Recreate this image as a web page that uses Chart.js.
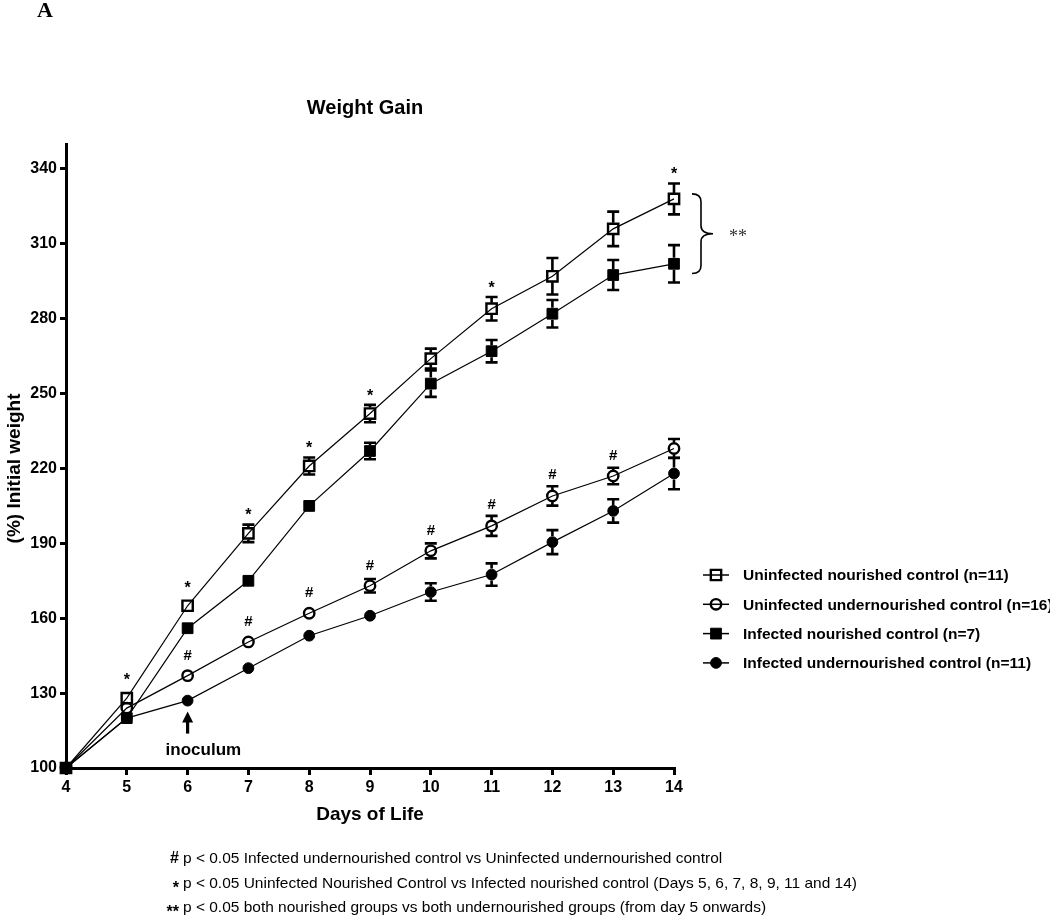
<!DOCTYPE html>
<html>
<head>
<meta charset="utf-8">
<script src="https://cdn.jsdelivr.net/npm/chart.js@4.4.0/dist/chart.umd.min.js"></script>
<style>
  html, body { margin: 0; padding: 0; background: #fff; }
  #wrap { width: 1050px; height: 916px; position: relative; }
</style>
</head>
<body>
<div id="wrap"><canvas id="myChart"></canvas></div>
<script>
'use strict';

// data
const days = [4, 5, 6, 7, 8, 9, 10, 11, 12, 13, 14];
const yTicks = [100, 130, 160, 190, 220, 250, 280, 310, 340];

const uninfNour = [100, 128, 165, 194, 221, 242, 264, 284, 297, 316, 328];
const uninfNourErr = [0, 0, 0, 3.5, 3.4, 3.5, 4, 4.7, 7.3, 6.9, 6.2];
const uninfUnder = [100, 124, 137, 150.5, 162, 173, 187, 197, 209, 217, 228];
const uninfUnderErr = [0, 0, 0, 0, 0, 2.7, 3, 4, 3.9, 3.3, 3.8];
const infNour = [100, 120, 156, 175, 205, 227, 254, 267, 282, 297.5, 302];
const infNourErr = [0, 0, 0, 0, 1.5, 3.3, 5.3, 4.5, 5.5, 6, 7.5];
const infUnder = [100, 120, 127, 140, 153, 161, 170.5, 177.5, 190.5, 203, 218];
const infUnderErr = [0, 0, 0, 0, 0, 0, 3.5, 4.5, 4.8, 4.7, 6.3];

const seriesNames = [
  'Uninfected nourished control (n=11)',
  'Uninfected undernourished control (n=16)',
  'Infected nourished control (n=7)',
  'Infected undernourished control (n=11)'
];

const starDays = [5, 6, 7, 8, 9, 11, 14];
const hashDays = [6, 7, 8, 9, 10, 11, 12, 13];
const inoculumDay = 6;

const footnotes = [
  ['#', 'p < 0.05 Infected undernourished control vs Uninfected undernourished control'],
  ['*', 'p < 0.05 Uninfected Nourished Control vs Infected nourished control (Days 5, 6, 7, 8, 9, 11 and 14)'],
  ['**', 'p < 0.05 both nourished groups vs both undernourished groups (from day 5 onwards)']
];

const SANS = 'Arial, "Liberation Sans", sans-serif';
const NARROW = '15px "Liberation Sans Narrow", "Arial Narrow", ' + SANS;
function bold(px) { return 'bold ' + px + 'px ' + SANS; }

function pts(vals) {
  return days.map((d, i) => ({ x: d, y: vals[i] }));
}

function series(label, vals, err, style, filled, radius) {
  return {
    label: label,
    data: pts(vals),
    err: err,
    borderColor: '#000',
    borderWidth: 1.2,
    pointStyle: style,
    pointRadius: radius,
    pointHoverRadius: radius,
    pointBorderWidth: filled ? 1 : 2.4,
    pointBorderColor: '#000',
    pointBackgroundColor: filled ? '#000' : 'rgba(0,0,0,0)',
    tension: 0,
    clip: false,
    filled: filled
  };
}

const datasets = [
  series(seriesNames[0], uninfNour, uninfNourErr, 'rect', false, 7.3),
  series(seriesNames[1], uninfUnder, uninfUnderErr, 'circle', false, 5.2),
  series(seriesNames[2], infNour, infNourErr, 'rect', true, 7.6),
  series(seriesNames[3], infUnder, infUnderErr, 'circle', true, 5.4)
];

// error bars, drawn from the marker edge outwards
const errorBars = {
  id: 'errorBars',
  afterDatasetsDraw(chart) {
    const ctx = chart.ctx;
    const ys = chart.scales.y;
    ctx.save();
    ctx.strokeStyle = '#000';
    ctx.lineWidth = 2.6;
    chart.data.datasets.forEach((ds, di) => {
      const meta = chart.getDatasetMeta(di);
      meta.data.forEach((pt, i) => {
        const e = ds.err[i];
        if (!e) return;
        const v = ds.data[i].y;
        [v + e, v - e].forEach(end => {
          const py = ys.getPixelForValue(end);
          if (Math.abs(py - pt.y) <= 6) return;
          const dir = py < pt.y ? -1 : 1;
          ctx.beginPath();
          ctx.moveTo(pt.x, pt.y + dir * 6);
          ctx.lineTo(pt.x, py);
          ctx.moveTo(pt.x - 6, py);
          ctx.lineTo(pt.x + 6, py);
          ctx.stroke();
        });
      });
    });
    ctx.restore();
  }
};

function drawMarker(ctx, ds, x, y) {
  ctx.save();
  ctx.lineWidth = ds.pointBorderWidth;
  ctx.strokeStyle = '#000';
  ctx.fillStyle = '#000';
  ctx.beginPath();
  if (ds.pointStyle === 'rect') {
    const s = ds.pointRadius * Math.SQRT1_2;
    ctx.rect(x - s, y - s, 2 * s, 2 * s);
  } else {
    ctx.arc(x, y, ds.pointRadius, 0, Math.PI * 2);
  }
  if (ds.filled) ctx.fill();
  ctx.stroke();
  ctx.restore();
}

const extras = {
  id: 'extras',
  afterDraw(chart) {
    const ctx = chart.ctx;
    const xs = chart.scales.x;
    const ys = chart.scales.y;
    ctx.save();
    ctx.fillStyle = '#000';
    ctx.strokeStyle = '#000';

    // panel letter and title
    ctx.font = 'bold 22px "Liberation Serif", "Times New Roman", serif';
    ctx.textAlign = 'center';
    ctx.textBaseline = 'middle';
    ctx.fillText('A', 45, 11);
    ctx.font = bold(20);
    ctx.fillText('Weight Gain', 365, 108);

    // y axis title, centred on the 100-340 span
    const yMid = (ys.getPixelForValue(yTicks[0]) + ys.getPixelForValue(yTicks[yTicks.length - 1])) / 2;
    ctx.save();
    ctx.translate(15, yMid);
    ctx.rotate(-Math.PI / 2);
    ctx.font = bold(19);
    ctx.fillText('(%) Initial weight', 0, 0);
    ctx.restore();

    // significance marks
    ctx.font = bold(16);
    starDays.forEach(d => {
      const i = days.indexOf(d);
      const py = ys.getPixelForValue(uninfNour[i]);
      const top = ys.getPixelForValue(uninfNour[i] + uninfNourErr[i]);
      const c = Math.min(py - 21, top - 12);
      ctx.textBaseline = 'alphabetic';
      ctx.fillText('*', xs.getPixelForValue(d), c + 8);
    });
    ctx.font = bold(15);
    hashDays.forEach(d => {
      const i = days.indexOf(d);
      const py = ys.getPixelForValue(uninfUnder[i]);
      const top = ys.getPixelForValue(uninfUnder[i] + uninfUnderErr[i]);
      const c = Math.min(py - 20, top - 11);
      ctx.textBaseline = 'middle';
      ctx.fillText('#', xs.getPixelForValue(d), c);
    });

    // inoculum arrow
    const ax = xs.getPixelForValue(inoculumDay);
    const tip = ys.getPixelForValue(infUnder[days.indexOf(inoculumDay)]) + 11;
    ctx.lineWidth = 3.2;
    ctx.beginPath();
    ctx.moveTo(ax, tip + 8);
    ctx.lineTo(ax, tip + 22);
    ctx.stroke();
    ctx.beginPath();
    ctx.moveTo(ax, tip);
    ctx.lineTo(ax - 5.5, tip + 11);
    ctx.lineTo(ax + 5.5, tip + 11);
    ctx.closePath();
    ctx.fill();
    ctx.font = bold(17);
    ctx.textAlign = 'left';
    ctx.textBaseline = 'middle';
    ctx.fillText('inoculum', ax - 22, tip + 39);

    // brace and ** at day 14
    const bx = xs.getPixelForValue(14) + 18;
    const bTop = ys.getPixelForValue(uninfNour[10]) - 5;
    const bBot = ys.getPixelForValue(infNour[10] - infNourErr[10]) - 9;
    const bMid = (bTop + bBot) / 2;
    ctx.lineWidth = 1.6;
    ctx.beginPath();
    ctx.moveTo(bx, bTop);
    ctx.quadraticCurveTo(bx + 9, bTop, bx + 9, bTop + 8);
    ctx.lineTo(bx + 9, bMid - 8);
    ctx.quadraticCurveTo(bx + 9, bMid, bx + 21, bMid);
    ctx.quadraticCurveTo(bx + 9, bMid, bx + 9, bMid + 8);
    ctx.lineTo(bx + 9, bBot - 8);
    ctx.quadraticCurveTo(bx + 9, bBot, bx, bBot);
    ctx.stroke();
    ctx.font = '18px "Liberation Serif", "Times New Roman", serif';
    ctx.fillStyle = '#333';
    ctx.fillText('**', bx + 37, bMid + 4);
    ctx.fillStyle = '#000';

    // legend
    ctx.font = bold(15.5);
    ctx.textBaseline = 'middle';
    chart.data.datasets.forEach((ds, i) => {
      const ly = 575 + i * 29.3;
      ctx.lineWidth = 1.5;
      ctx.beginPath();
      ctx.moveTo(703, ly);
      ctx.lineTo(729, ly);
      ctx.stroke();
      drawMarker(ctx, ds, 716, ly);
      ctx.fillText(ds.label, 743, ly + 1);
    });

    // footnotes, narrow sans
    const fnY = [858, 883, 907];
    ctx.font = NARROW;
    const k = 674 / ctx.measureText(footnotes[1][1]).width;
    ctx.textBaseline = 'alphabetic';
    footnotes.forEach((f, i) => {
      const base = fnY[i] + 5;
      ctx.font = bold(16);
      ctx.textAlign = 'right';
      // asterisks sit high in the font, drop them to mid height
      ctx.fillText(f[0], 179, f[0] === '#' ? base : base + 5);
      ctx.font = NARROW;
      ctx.textAlign = 'left';
      ctx.save();
      ctx.translate(183, base);
      ctx.scale(k, 1);
      ctx.fillText(f[1], 0, 0);
      ctx.restore();
    });
    ctx.restore();
  }
};

const ctx = document.getElementById('myChart').getContext('2d');
const myChart = new Chart(ctx, {
  type: 'line',
  data: { datasets: datasets },
  options: {
    responsive: true,
    maintainAspectRatio: false,
    animation: false,
    events: [],
    layout: { padding: { left: 0, top: 144, right: 376, bottom: 86 } },
    plugins: {
      legend: { display: false },
      tooltip: { enabled: false }
    },
    scales: {
      x: {
        type: 'linear',
        min: 4,
        max: 14,
        afterBuildTicks: (s) => { s.ticks = days.map(v => ({ value: v })); },
        afterFit: (s) => { s.height = 62; },
        ticks: { color: '#000', font: { family: SANS, size: 16, weight: 'bold' }, padding: 3, maxRotation: 0 },
        grid: { drawOnChartArea: false, drawTicks: true, tickLength: 7, lineWidth: 3, color: '#000' },
        border: { display: true, width: 3, color: '#000' },
        title: { display: true, text: 'Days of Life', color: '#000', font: { family: SANS, size: 19, weight: 'bold' } }
      },
      y: {
        min: 100,
        max: 350,
        afterBuildTicks: (s) => { s.ticks = yTicks.map(v => ({ value: v })); },
        afterFit: (s) => { s.width = 66; },
        ticks: { color: '#000', font: { family: SANS, size: 16, weight: 'bold' }, padding: 3 },
        grid: { drawOnChartArea: false, drawTicks: true, tickLength: 6, lineWidth: 3, color: '#000' },
        border: { display: true, width: 3, color: '#000' },
        title: { display: false }
      }
    }
  },
  plugins: [errorBars, extras]
});
</script>
</body>
</html>
